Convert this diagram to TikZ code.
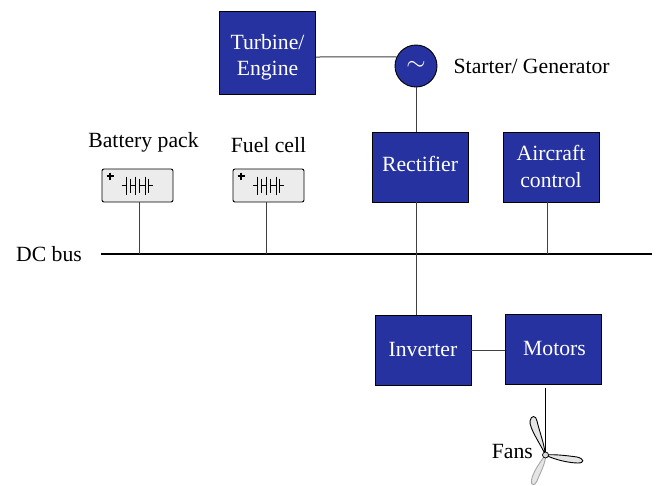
\documentclass[tikz,border=0pt]{standalone}
\usepackage{fontspec}
\setmainfont{Liberation Serif}
\usetikzlibrary{calc,positioning}
\definecolor{blockblue}{RGB}{38,50,160}
\tikzset{
    block/.style={rectangle, draw=black, line width=0.9pt, fill=blockblue, minimum width=96pt, minimum height=70pt, inner sep=0pt},
    blocktext/.style={text=white, align=center, inner sep=0pt},
    cellbox/.style={rectangle, draw=black, line width=0.9pt, fill=gray!15, rounded corners=2pt, minimum width=71pt, minimum height=33pt, inner sep=0pt},
    wire/.style={draw=black!75, line width=1pt},
    plate/.style={line width=1pt},
    label/.style={inner sep=0pt},
    blade/.style={draw=black, fill=gray!20, line width=0.9pt}
}
% battery symbol, drawn round the middle of a cell box
\newcommand{\cellsymbol}[1]{
    \foreach \px in {-11.5,-2.5,7.5} {
        \draw[plate] ($(#1)+(\px,9)$) -- ++(0,-18);
    }
    \foreach \px in {-7.5,1.5,10.5} {
        \draw[plate] ($(#1)+(\px,7)$) -- ++(0,-14);
    }
    \draw[plate] ($(#1)+(-16,0)$) -- ++(4.5,0);
    \draw[plate] ($(#1)+(-7.5,0)$) -- ++(5,0);
    \draw[plate] ($(#1)+(1.5,0)$) -- ++(6,0);
    \draw[plate] ($(#1)+(10.5,0)$) -- ++(5,0);
    \draw[line width=1.3pt] ($(#1)+(-31,9.5)$) -- ++(7,0) ($(#1)+(-27.5,13)$) -- ++(0,-7);
}
\begin{document}
\begin{tikzpicture}[x=1pt, y=1pt, font=\fontsize{21.7}{26.5}\selectfont]
    \useasboundingbox (0,0) rectangle (660,-485);

    \node[block, minimum height=83pt] (turbine) at (267.5,-52.5) {};
    \node[circle, draw=black, line width=0.9pt, fill=blockblue, text=white, minimum size=42pt, inner sep=0pt, font=\fontsize{25}{25}\selectfont] (gen) at (416,-66) {$\sim$};
    \node[block] (rectifier) at (420,-167) {};
    \node[block] (control) at (551,-167) {};
    \node[block] (inverter) at (423,-350) {};
    \node[block] (motors) at (553,-349) {};

    \node[blocktext, yshift=-5pt] (turbinetext) at (turbine) {Turbine/\\Engine};
    \node[blocktext, yshift=3pt] (rectifiertext) at (rectifier) {Rectifier};
    \node[blocktext, yshift=0.5pt] (controltext) at (control) {Aircraft\\control};
    \node[blocktext, yshift=1pt] (invertertext) at (inverter) {Inverter};
    \node[blocktext, xshift=1.5pt, yshift=1pt] (motorstext) at (motors) {Motors};

    \node[cellbox] (battery) at (137.5,-185.5) {};
    \node[cellbox] (fuel) at (268.5,-185.5) {};
    \cellsymbol{battery}
    \cellsymbol{fuel}

    \node[label, above=16pt of battery, xshift=6pt] (batterytext) {Battery pack};
    \node[label, above=16pt of fuel] (fueltext) {Fuel cell};
    \node[label, right=16pt of gen] (gentext) {Starter/ Generator};

    % dc bus
    \coordinate (busleft) at (101,-254);
    \coordinate (busright) at (652,-254);
    \node[label, left=19pt of busleft] (bustext) {DC bus};
    \draw[line width=2.6pt] (busleft) -- (busright);

    \draw[wire] ([yshift=-4.5pt]turbine.east) -- (gen.155);
    \draw[wire] (gen.south) -- (gen |- rectifier.north);
    \draw[wire] (gen |- rectifier.south) -- (gen |- inverter.north);
    \draw[wire] ([xshift=1.5pt]battery.south) -- ([xshift=1.5pt]battery.south |- busleft);
    \draw[wire] ([xshift=-2.5pt]fuel.south) -- ([xshift=-2.5pt]fuel.south |- busleft);
    \draw[wire] ([xshift=-4pt]control.south) -- ([xshift=-4pt]control.south |- busleft);
    \draw[wire] (inverter.east) -- (inverter.east -| motors.west);

    % fan
    \coordinate (hub) at (545.5,-455);
    \draw[line width=0.9pt] (hub |- motors.south) ++(0,-4) -- (hub);
    \draw[blade] (hub) .. controls (541,-445) and (529,-428) .. (530,-421) .. controls (531,-415) and (536,-415) .. (537,-421) .. controls (539,-430) and (544,-443) .. (hub);
    \draw[blade] (hub) .. controls (555,-454) and (570,-456) .. (577,-457) .. controls (584,-458.5) and (585,-463) .. (578,-463) .. controls (570,-463) and (555,-460) .. (hub);
    \draw[blade, draw=gray!70] (hub) .. controls (540,-462) and (533,-472) .. (531.5,-480) .. controls (530.5,-486) and (535,-486) .. (537,-481) .. controls (540,-473) and (546,-463) .. (hub);
    \draw[line width=0.7pt, fill=gray!30] (hub) circle (3pt);
    \node[label, left=12.5pt of hub, yshift=4pt] (fantext) {Fans};
\end{tikzpicture}
\end{document}
